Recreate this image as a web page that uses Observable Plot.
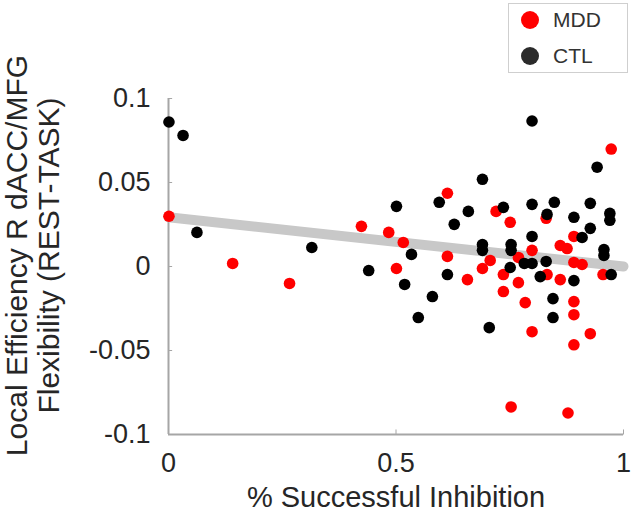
<!DOCTYPE html>
<html>
<head>
<meta charset="utf-8">
<script src="https://cdn.jsdelivr.net/npm/d3@7"></script>
<script src="https://cdn.jsdelivr.net/npm/@observablehq/plot@0.6"></script>
<style>
  html, body { margin: 0; padding: 0; background: #fff; }
  #wrap { position: relative; width: 631px; height: 519px; }
  #legend { position: absolute; left: 508px; top: 3px; width: 118px; height: 68px;
    border: 1px solid #cfcfcf; background: #fff; font-family: "Liberation Sans", Arial, sans-serif;
    font-size: 21px; color: #333; }
  .item { position: absolute; left: 0; height: 24px; display: flex; align-items: center; }
  .sw { width: 18px; height: 18px; border-radius: 50%; margin-left: 12px; margin-right: 14px; }
</style>
</head>
<body>
<div id="wrap"></div>
<script>
// ---- data ----
const groupNames = ["MDD", "CTL"];
const groupColors = ["#ff0000", "#000000"];

const mddX = [0.001, 0.141, 0.266, 0.424, 0.484, 0.516, 0.613, 0.720, 0.751, 0.973,
  0.613, 0.501, 0.707, 0.690, 0.769, 0.799, 0.861, 0.876, 0.891, 0.830,
  0.891, 0.909, 0.955, 0.736, 0.832, 0.657, 0.861, 0.736, 0.769, 0.784,
  0.891, 0.891, 0.799, 0.927, 0.891, 0.753, 0.878];
const mddY = [0.0299, 0.0018, -0.0101, 0.0239, 0.0203, 0.0143, 0.0436, 0.0328, 0.0263, 0.0699,
  0.0060, -0.0012, 0.0036, -0.0012, 0.0054, 0.0096, 0.0125, 0.0107, 0.0179, 0.0287,
  0.0024, 0.0012, -0.0048, -0.0048, -0.0048, -0.0078, -0.0078, -0.0149, -0.0096, -0.0215,
  -0.0209, -0.0287, -0.0388, -0.0400, -0.0466, -0.0836, -0.0872];

const ctlX = [0.001, 0.032, 0.0625, 0.315, 0.440, 0.501, 0.595, 0.690, 0.659, 0.628,
  0.736, 0.799, 0.942, 0.799, 0.848, 0.927, 0.832, 0.891, 0.970, 0.970,
  0.927, 0.909, 0.799, 0.753, 0.753, 0.690, 0.690, 0.957, 0.957, 0.534,
  0.782, 0.799, 0.830, 0.751, 0.613, 0.817, 0.891, 0.973, 0.519, 0.580,
  0.549, 0.705, 0.845, 0.845];
const ctlY = [0.0860, 0.0780, 0.0203, 0.0113, -0.0024, 0.0358, 0.0382, 0.0519, 0.0328, 0.0251,
  0.0352, 0.0866, 0.0591, 0.0370, 0.0382, 0.0376, 0.0310, 0.0293, 0.0316, 0.0275,
  0.0227, 0.0173, 0.0179, 0.0131, 0.0096, 0.0131, 0.0096, 0.0101, 0.0066, 0.0072,
  0.0018, 0.0018, 0.0030, -0.0006, -0.0048, -0.0060, -0.0084, -0.0048, -0.0107, -0.0179,
  -0.0304, -0.0364, -0.0191, -0.0304];

const fitX = [0, 1];
const fitY = [0.0293, 0.0000];

const xTicks = [0, 0.5, 1];
const xTickLabels = ["0", "0.5", "1"];
const yTicks = [-0.1, -0.05, 0, 0.05, 0.1];
const yTickLabels = ["-0.1", "-0.05", "0", "0.05", "0.1"];

const xLabel = "% Successful Inhibition";
const yLabelLines = ["Local Efficiency R dACC/MFG", "Flexibility (REST-TASK)"];

// ---- build tables ----
const mdd = mddX.map((x, i) => ({x, y: mddY[i]}));
const ctl = ctlX.map((x, i) => ({x, y: ctlY[i]}));
const fit = fitX.map((x, i) => ({x, y: fitY[i]}));

const axisGray = "#a6a6a6";
const textColor = "#262626";

const chart = Plot.plot({
  width: 631,
  height: 519,
  marginLeft: 168,
  marginRight: 8,
  marginTop: 98,
  marginBottom: 85,
  style: {fontFamily: "'Liberation Sans', Arial, sans-serif", fontSize: "27px", color: textColor, background: "white"},
  x: {domain: [0, 1]},
  y: {domain: [-0.1, 0.1]},
  marks: [
    // axis lines
    Plot.ruleX([0], {stroke: axisGray, strokeWidth: 2}),
    Plot.ruleY([-0.1], {stroke: axisGray, strokeWidth: 2}),
    // inward tick marks
    Plot.link(yTicks, {x1: 0, x2: 0.008, y1: d => d, y2: d => d, stroke: axisGray, strokeWidth: 1}),
    Plot.link(xTicks, {x1: d => d, x2: d => d, y1: -0.1, y2: -0.097, stroke: axisGray, strokeWidth: 1}),
    Plot.axisX({ticks: xTicks, tickSize: 0, tickPadding: 18, tickFormat: (d, i) => xTickLabels[i], label: null, fontSize: 27}),
    Plot.axisY({ticks: yTicks, tickSize: 0, tickPadding: 18, tickFormat: (d, i) => yTickLabels[i], label: null, fontSize: 27}),
    // regression line
    Plot.line(fit, {x: "x", y: "y", stroke: "#c8c8c8", strokeWidth: 10}),
    // points
    Plot.dot(mdd, {x: "x", y: "y", r: 5.8, fill: groupColors[0], stroke: "none"}),
    Plot.dot(ctl, {x: "x", y: "y", r: 5.8, fill: groupColors[1], stroke: "none"}),
    // axis titles
    Plot.text([xLabel], {text: d => d, frameAnchor: "bottom", dy: 63, fontSize: 29, fill: textColor, lineAnchor: "middle"}),
    Plot.text([yLabelLines.join("\n")], {text: d => d, frameAnchor: "left", rotate: -90, dx: -136, dy: -11,
      fontSize: 30, lineHeight: 1.07, textAnchor: "middle", lineAnchor: "middle", fill: textColor})
  ]
});

const wrap = document.getElementById("wrap");
wrap.appendChild(chart);

// legend (HTML overlay at top right)
const legend = document.createElement("div");
legend.id = "legend";
groupNames.forEach((name, i) => {
  const item = document.createElement("div");
  item.className = "item";
  item.style.top = (4 + i * 36) + "px";
  const sw = document.createElement("span");
  sw.className = "sw";
  sw.style.background = i === 0 ? groupColors[0] : "#2b2b2b";
  const t = document.createElement("span");
  t.textContent = name;
  item.appendChild(sw);
  item.appendChild(t);
  legend.appendChild(item);
});
wrap.appendChild(legend);
</script>
</body>
</html>
